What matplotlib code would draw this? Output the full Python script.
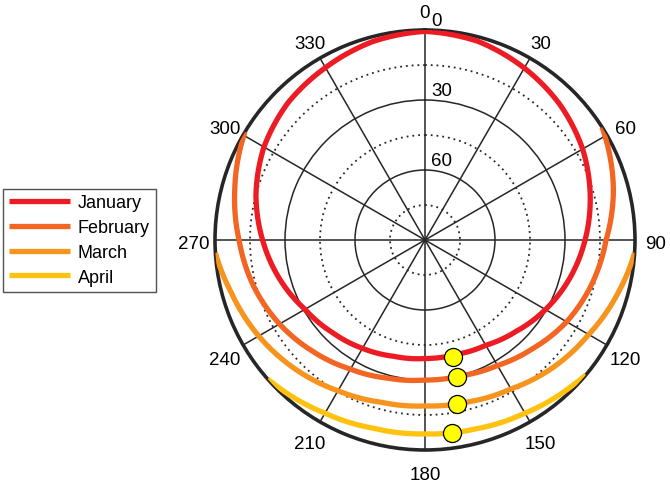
import numpy as np
import matplotlib
matplotlib.use('Agg')
import matplotlib.pyplot as plt
from matplotlib.ticker import FixedLocator
from matplotlib.transforms import offset_copy

plt.rcParams['font.family'] = ['Liberation Sans', 'DejaVu Sans']

# sun paths: azimuth (deg, clockwise from north) and elevation (deg)
months = ['January', 'February', 'March', 'April']
colors = ['#ED1C24', '#F26522', '#F7941D', '#FFC20E']

jan_az = [0, 15, 30, 45, 60, 75, 90, 105, 120, 135, 150, 165, 180,
          195, 210, 225, 240, 255, 270, 285, 300, 315, 330, 345, 360]
jan_el = [0.6, 1.9, 4.9, 8.1, 12.0, 16.7, 21.4, 25.9, 30.4, 34.7, 37.9, 39.2, 39.2,
          38.4, 36.4, 33.9, 30.6, 25.5, 20.4, 15.0, 10.3, 6.9, 4.7, 2.1, 0.6]

feb_az = [57.5, 75, 90, 105, 120, 135, 150, 165, 180, 195, 210, 225, 240, 255, 270, 285, 301]
feb_el = [0.0, 6.4, 12.4, 16.1, 19.9, 24.4, 27.9, 29.8, 30.0, 28.7, 26.1, 22.3, 18.0, 13.9, 10.3, 5.6, 0.0]

mar_az = [93.5, 105, 120, 135, 150, 165, 180, 195, 210, 225, 240, 255, 266.5]
mar_el = [0.0, 4.1, 9.0, 12.6, 16.3, 18.2, 18.9, 18.0, 15.4, 11.6, 7.7, 3.9, 0.0]

apr_az = [130, 135, 150, 165, 180, 195, 210, 225, 228.5]
apr_el = [0.0, 1.3, 4.3, 6.2, 6.9, 6.4, 4.3, 0.9, 0.0]

# noon positions
noon_az = [166.5, 167, 169, 172]
noon_el = [38.6, 29.6, 18.4, 6.6]

theta_ticks = np.arange(0, 360, 30)
r_ticks = [0, 30, 60]
r_minor = [15, 45, 75]

fig = plt.figure(figsize=(6.7, 4.85), dpi=100)
ax = fig.add_axes([215 / 670, 34 / 485, 420 / 670, 420 / 485], projection='polar')
ax.set_theta_zero_location('N')
ax.set_theta_direction(-1)
ax.set_rlim(90, 0)

paths = [(jan_az, jan_el), (feb_az, feb_el), (mar_az, mar_el), (apr_az, apr_el)]
for (az, el), name, c in zip(paths, months, colors):
    line, = ax.plot(np.deg2rad(az), el, color=c, lw=3.8, label=name,
                    solid_capstyle='butt', zorder=3)
    # follow the polar curvature between read points
    line._path._interpolation_steps = 30

ax.plot(np.deg2rad(noon_az), noon_el, 'o', ms=13, mfc='#FFFF00', mec='black',
        mew=0.9, zorder=4)

# grid
ax.set_xticks(np.deg2rad(theta_ticks))
ax.set_xticklabels([])
ax.set_yticks([30, 60])
ax.set_yticklabels([])
ax.yaxis.set_minor_locator(FixedLocator(r_minor))
ax.grid(True, which='major', color='#262626', lw=1.1, ls='-')
ax.grid(True, which='minor', axis='y', color='#262626', lw=1.3, ls=(0, (1, 2.2)))
ax.tick_params(axis='both', which='both', length=0)
ax.spines['polar'].set_linewidth(2.6)
ax.spines['polar'].set_color('#262626')

# theta labels placed a fixed distance outside the rim
for t in theta_ticks:
    a = np.deg2rad(t)
    tr = offset_copy(ax.transData, fig=fig, x=21 * np.sin(a), y=21 * np.cos(a) - 3.8,
                     units='dots')
    ax.text(a, 0, str(t), transform=tr, ha='center', va='center', fontsize=13.5,
            clip_on=False)

# radial labels, just outside each circle near north
off = offset_copy(ax.transData, fig=fig, x=6, y=10, units='dots')
for r in r_ticks:
    ax.text(0, r, str(r), transform=off, ha='left', va='center', fontsize=13.5)

fig.legend(loc='upper left', bbox_to_anchor=(3 / 670, 1 - 189.5 / 485),
           fontsize=13, frameon=True, fancybox=False, edgecolor='#262626',
           handlelength=3.4, handletextpad=0.4, labelspacing=0.43,
           borderpad=0.33, borderaxespad=0)

fig.savefig('out.png', dpi=100)
